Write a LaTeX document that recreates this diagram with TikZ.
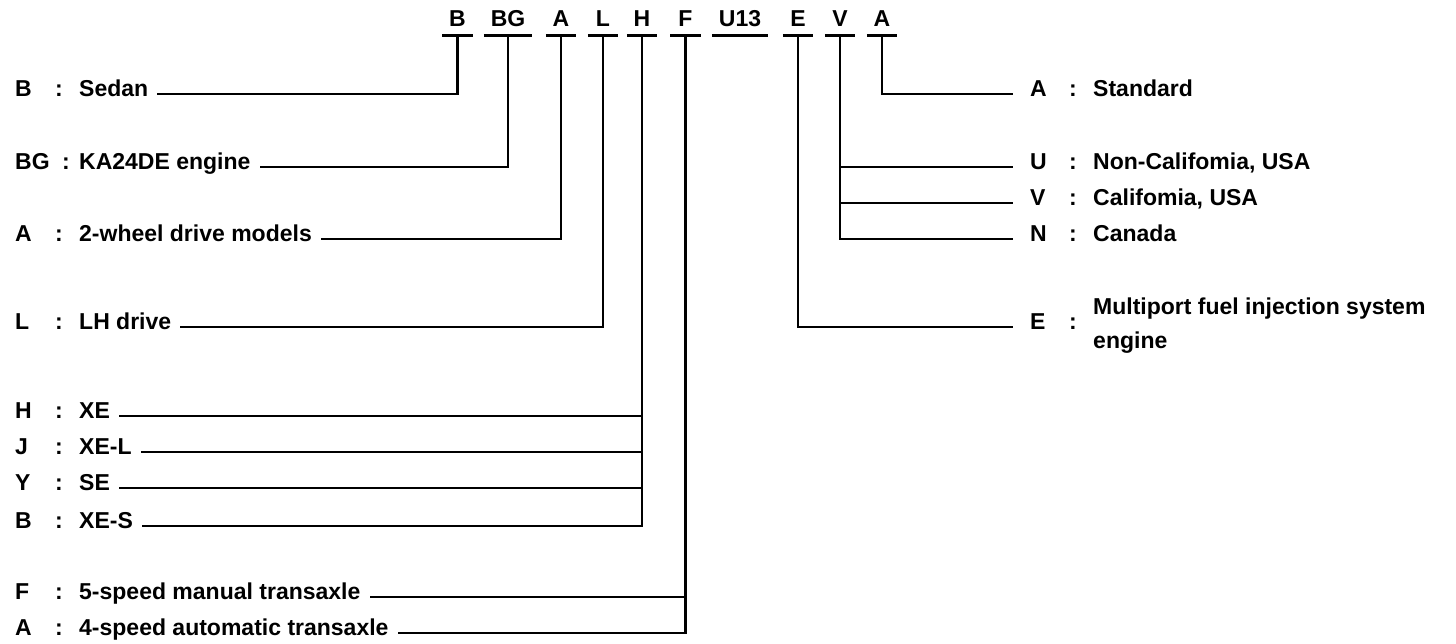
\documentclass[tikz,border=0pt]{standalone}
\usepackage{fontspec}
\setmainfont{Liberation Sans}
\usetikzlibrary{positioning}

\begin{document}
\begin{tikzpicture}[
    x=1pt, y=-1pt,
    every node/.style={font=\fontsize{23}{34}\selectfont\bfseries},
    code/.style={text height=15pt, text depth=0pt, inner xsep=0pt, inner ysep=9pt, minimum width=30pt},
    key/.style={anchor=mid west, inner sep=0pt},
    colon/.style={anchor=mid, inner sep=0pt},
    desc/.style={anchor=mid west, inner ysep=0pt, inner xsep=9pt},
    rkey/.style={anchor=mid west, inner ysep=0pt, inner xsep=17pt},
    rdesc/.style={anchor=mid west, inner sep=0pt},
    line/.style={line width=2.8pt}
]
\useasboundingbox (0,0) rectangle (1456,644);

% Model code
\node[code] (cB) at (457.5,19) {B};
\node[code, minimum width=48pt] (cBG) at (508,19) {BG};
\node[code] (cA) at (561,19) {A};
\node[code] (cL) at (603,19) {L};
\node[code] (cH) at (642,19) {H};
\node[code] (cF) at (685.5,19) {F};
\node[code, minimum width=56pt] (cU) at (740,19) {U13};
\node[code] (cE) at (798,19) {E};
\node[code] (cV) at (840,19) {V};
\node[code] (cAA) at (882,19) {A};
\foreach \c in {cB,cBG,cA,cL,cH,cF,cU,cE,cV,cAA}
    \draw[line] (\c.south west) -- (\c.south east);

% Left side: body, engine, drive, grade, transaxle
\node[key] (kSedan) at (15,94) {B};
\node[colon] (dSedan) at (59,94) {:};
\node[desc] (sedan) at (70,94) {Sedan};

\node[key] (kEngine) at (15,167) {BG};
\node[colon] (dEngine) at (66,167) {:};
\node[desc] (engine) at (70,167) {KA24DE engine};

\node[key] (kTwowd) at (15,239) {A};
\node[colon] (dTwowd) at (59,239) {:};
\node[desc] (twowd) at (70,239) {2-wheel drive models};

\node[key] (kLhd) at (15,327) {L};
\node[colon] (dLhd) at (59,327) {:};
\node[desc] (lhd) at (70,327) {LH drive};

\node[key] (kXe) at (15,416) {H};
\node[colon] (dXe) at (59,416) {:};
\node[desc] (xe) at (70,416) {XE};

\node[key] (kXel) at (15,452) {J};
\node[colon] (dXel) at (59,452) {:};
\node[desc] (xel) at (70,452) {XE-L};

\node[key] (kSe) at (15,488) {Y};
\node[colon] (dSe) at (59,488) {:};
\node[desc] (se) at (70,488) {SE};

\node[key] (kXes) at (15,526) {B};
\node[colon] (dXes) at (59,526) {:};
\node[desc] (xes) at (70,526) {XE-S};

\node[key] (kMt) at (15,597) {F};
\node[colon] (dMt) at (59,597) {:};
\node[desc] (mt) at (70,597) {5-speed manual transaxle};

\node[key] (kAt) at (15,633) {A};
\node[colon] (dAt) at (59,633) {:};
\node[desc] (at) at (70,633) {4-speed automatic transaxle};

% Right side: market, fuel system, spec
\node[rkey] (kStd) at (1013,94) {A};
\node[colon] (dStd) at (1073,94) {:};
\node[rdesc] (std) at (1093,94) {Standard};

\node[rkey] (kNoncal) at (1013,167) {U};
\node[colon] (dNoncal) at (1073,167) {:};
\node[rdesc] (noncal) at (1093,167) {Non-Califomia, USA};

\node[rkey] (kCal) at (1013,203) {V};
\node[colon] (dCal) at (1073,203) {:};
\node[rdesc] (cal) at (1093,203) {Califomia, USA};

\node[rkey] (kCanada) at (1013,239) {N};
\node[colon] (dCanada) at (1073,239) {:};
\node[rdesc] (canada) at (1093,239) {Canada};

\node[rkey] (kMpi) at (1013,327) {E};
\node[colon] (dMpi) at (1073,327) {:};
\node[rdesc, anchor=west, align=left] (mpi) at (1093,326) {Multiport fuel injection system\\engine};

% Leader lines
\draw[line] (cB.south) |- (sedan.mid east);
\draw[line] (cBG.south) |- (engine.mid east);
\draw[line] (cA.south) |- (twowd.mid east);
\draw[line] (cL.south) |- (lhd.mid east);
\draw[line] (cH.south) |- (xes.mid east);
\foreach \n in {xe,xel,se}
    \draw[line] (cH.south |- \n.mid east) -- (\n.mid east);
\draw[line] (cF.south) |- (at.mid east);
\draw[line] (cF.south |- mt.mid east) -- (mt.mid east);

\draw[line] (cAA.south) |- (kStd.mid west);
\draw[line] (cV.south) |- (kCanada.mid west);
\foreach \n in {kNoncal,kCal}
    \draw[line] (cV.south |- \n.mid west) -- (\n.mid west);
\draw[line] (cE.south) |- (kMpi.mid west);

\end{tikzpicture}
\end{document}
